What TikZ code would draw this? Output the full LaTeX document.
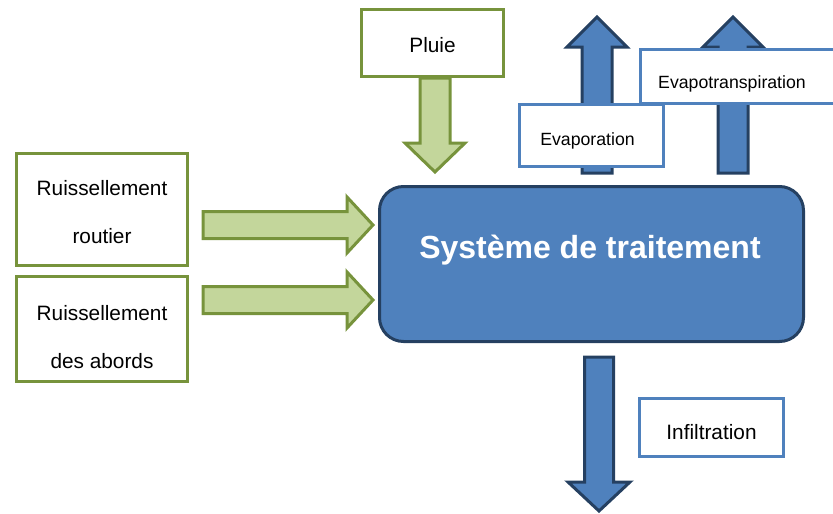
\documentclass[tikz,border=0pt]{standalone}
\usepackage{fontspec}
\setmainfont{Liberation Sans}
\usetikzlibrary{calc}
\definecolor{gline}{RGB}{119,147,60}
\definecolor{gfill}{RGB}{195,214,155}
\definecolor{bfill}{RGB}{79,129,189}
\definecolor{bdark}{RGB}{37,64,97}
\definecolor{blight}{RGB}{79,129,189}
\newcommand\blockarrow[6]{%
 \coordinate (bah) at ($(#3)!#6!(#2)$);
 \draw[#1] ($(#2)!#4!90:(#3)$) -- ($(bah)!#4!90:(#3)$) -- ($(bah)!#5!90:(#3)$) -- (#3)
   -- ($(bah)!#5!-90:(#3)$) -- ($(bah)!#4!-90:(#3)$) -- ($(#2)!#4!-90:(#3)$) -- cycle;}
\tikzset{
  greenbox/.style={draw=gline, line width=3pt, fill=white, rectangle, inner sep=0pt},
  bluebox/.style={draw=blight, line width=3pt, fill=white, rectangle, inner sep=0pt},
  gtxt/.style={font=\fontsize{20.8}{48}\selectfont, align=center, inner sep=0pt},
  btxt/.style={font=\fontsize{17.7}{21}\selectfont, inner sep=0pt},
  mainbox/.style={draw=bdark, line width=3pt, fill=bfill, rectangle, rounded corners=24pt,
    inner sep=0pt},
  maintext/.style={text=white, font=\fontsize{32}{38}\selectfont\bfseries, inner sep=0pt},
  greenarrow/.style={draw=gline, fill=gfill, line width=3pt, line join=miter},
  bluearrow/.style={draw=bdark, fill=bfill, line width=3pt, line join=miter},
}
\begin{document}
\begin{tikzpicture}[x=1pt,y=-1pt]
\useasboundingbox (0,0) rectangle (833,514);
% nodes
\node[greenbox, minimum width=142pt, minimum height=67pt,
  label={[gtxt, yshift=-2pt]center:Pluie}] (pluie) at (432.5,43) {};
\node[greenbox, minimum width=171pt, minimum height=112pt,
  label={[gtxt, yshift=-3pt]center:Ruissellement\\routier}] (r1) at (102,209) {};
\node[greenbox, minimum width=171pt, minimum height=105pt,
  label={[gtxt, yshift=-8pt]center:Ruissellement\\des abords}] (r2) at (102,329) {};
\node[mainbox, minimum width=424pt, minimum height=155pt,
  label={[maintext, xshift=-1.5pt, yshift=14pt]center:Système de traitement}] (sys) at (591.5,264) {};
% arrow end points
\coordinate (pa) at (435,78);   \coordinate (pb) at (435,172);
\coordinate (ra1) at (203,225); \coordinate (rb1) at (373,225);
\coordinate (ra2) at (203,300); \coordinate (rb2) at (373,300);
\coordinate (ea) at (597,173);  \coordinate (eb) at (597,17);
\coordinate (ta) at (733,173);  \coordinate (tb) at (733,17);
\coordinate (ia) at (599,357);  \coordinate (ib) at (599,511);
% arrows
\blockarrow{greenarrow}{pa}{pb}{15pt}{30pt}{29pt}
\blockarrow{greenarrow}{ra1}{rb1}{13.5pt}{28pt}{26pt}
\blockarrow{greenarrow}{ra2}{rb2}{13.5pt}{28pt}{26pt}
\blockarrow{bluearrow}{ea}{eb}{15pt}{30pt}{30pt}
\blockarrow{bluearrow}{ta}{tb}{15pt}{30pt}{30pt}
\blockarrow{bluearrow}{ia}{ib}{14.5pt}{31pt}{29pt}
% blue label boxes
\node[bluebox, minimum width=203pt, minimum height=54pt,
  label={[btxt, anchor=west, yshift=-7pt, xshift=19pt]west:Evapotranspiration}] (evapot) at (742,76.5) {};
\node[bluebox, minimum width=144pt, minimum height=62pt,
  label={[btxt, xshift=-4pt, yshift=-5pt]center:Evaporation}] (evap) at (591.5,135.5) {};
\node[bluebox, minimum width=144pt, minimum height=58pt,
  label={[gtxt, xshift=0pt, yshift=-5pt]center:Infiltration}] (infil) at (711.5,427.5) {};
\end{tikzpicture}
\end{document}
